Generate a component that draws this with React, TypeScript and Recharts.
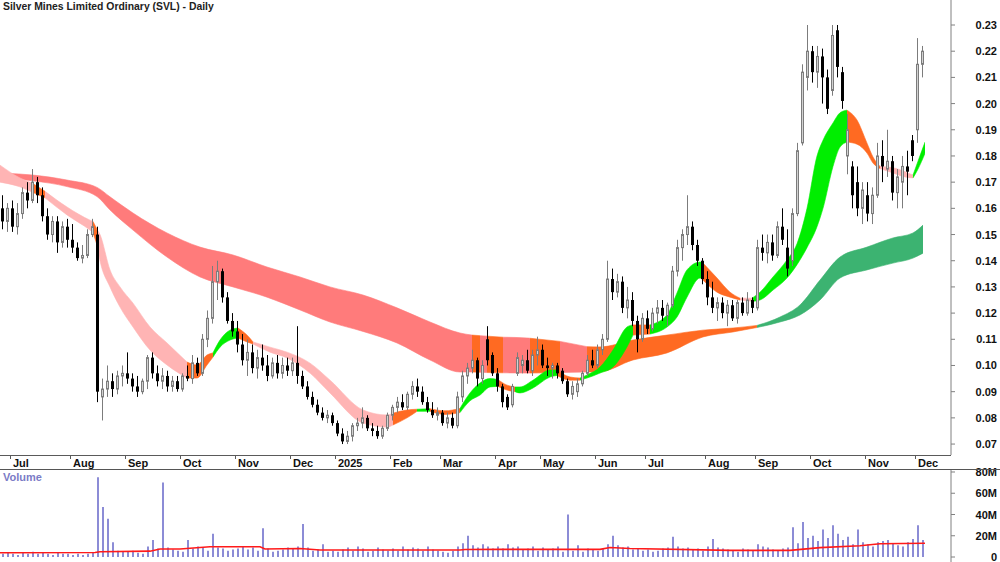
import { Area, Bar, ComposedChart, Line, XAxis, YAxis } from 'recharts'

const FONT = "'Liberation Sans Narrow', 'Liberation Sans', Arial, sans-serif"

// price bars in thousandths of a dollar: [open, high, low, close], one bar per two sessions
const jun24 = [[160,165,152,155],[155,162,151,160]]
const jul24 = [[160,163,151,153],[153,162,150,158],[158,168,156,166],[166,170,160,163],[163,175,162,170],[170,172,162,165],[165,168,155,157],[157,160,148,150],[150,157,147,155],[155,157,143,147],[147,155,145,153],[153,156,145,148]]
const aug24 = [[148,154,143,145],[145,147,140,141],[141,146,139,142],[142,152,141,150],[150,156,149,153],[150,153,86,90],[88,95,79,91],[91,100,88,94],[94,97,88,91],[91,98,89,96],[96,100,92,97]]
const sep24 = [[97,105,93,95],[95,97,90,92],[92,96,88,90],[90,95,89,94],[94,104,91,103],[103,105,95,97],[97,100,92,94],[94,99,91,96],[96,98,90,92],[92,96,90,94],[94,96,90,91]]
const oct24 = [[91,97,90,96],[96,100,94,95],[95,104,93,101],[101,103,96,97],[97,112,96,110],[110,121,107,118],[118,138,116,132],[132,140,125,136],[136,137,124,126],[126,128,116,117],[117,120,111,113]]
const nov24 = [[113,117,105,108],[108,112,100,102],[102,110,96,105],[105,108,97,99],[99,106,95,103],[103,108,98,100],[100,104,94,96],[96,103,95,101],[101,104,95,97],[97,103,95,100],[100,103,96,98]]
const dec24 = [[98,103,96,101],[101,115,93,96],[96,98,91,92],[92,94,87,88],[88,90,84,85],[85,87,81,82],[82,84,79,80],[80,83,78,81],[81,82,77,78]]
const jan25 = [[78,79,73,74],[74,76,70,71],[71,75,70,73],[73,78,71,77],[77,80,75,78],[78,84,76,80],[80,81,75,76],[76,78,73,75],[75,77,72,73],[73,77,72,76],[76,82,75,81]]
const feb25 = [[81,85,79,84],[84,88,82,86],[86,89,83,84],[84,90,83,89],[89,94,87,92],[92,95,88,90],[90,92,85,86],[86,88,82,83],[83,86,80,81],[81,84,79,82]]
const mar25 = [[82,83,77,78],[78,82,76,80],[80,82,76,77],[77,90,76,88],[88,98,86,96],[96,101,93,99],[99,106,97,102],[102,103,92,95],[95,102,93,100],[110,115,100,102],[104,105,96,97]]
const apr25 = [[97,99,90,92],[92,93,84,86],[88,89,83,84],[85,93,84,92],[97,105,96,103],[100,104,97,102],[102,106,97,98],[98,106,96,104],[104,111,100,106]]
const may25 = [[106,108,99,100],[100,103,96,99],[99,101,95,100],[100,101,95,97],[98,99,93,94],[94,95,88,89],[89,94,87,92],[90,95,88,93],[93,98,92,97],[97,104,96,102],[102,106,99,100]]
const jun25 = [[100,108,99,106],[106,112,104,110],[110,140,109,133],[133,137,125,128],[128,135,126,132],[132,134,120,122],[122,130,118,125],[125,128,115,117],[117,119,105,110],[110,120,109,118]]
const jul25 = [[118,121,112,114],[114,122,113,120],[120,125,116,122],[122,125,117,119],[119,124,115,123],[123,138,122,136],[136,148,134,145],[145,152,140,150],[150,165,146,153],[153,155,144,146],[146,148,138,140],[140,141,131,133]]
const aug25 = [[133,136,123,126],[126,132,120,122],[122,126,117,124],[124,126,118,120],[120,125,115,123],[123,125,117,118],[118,125,116,124],[124,126,119,120],[120,128,119,125],[125,126,120,122]]
const sep25 = [[122,148,121,145],[145,150,140,143],[143,150,139,147],[147,150,140,142],[142,155,141,153],[153,160,146,148],[145,152,134,137],[140,160,138,158],[158,185,157,182],[185,215,184,212],[210,230,205,220]]
const oct25 = [[220,222,208,212],[212,222,206,218],[218,221,200,210],[210,213,196,198],[205,230,203,226],[228,230,210,214],[212,214,198,201],[180,196,173,190],[176,178,160,165],[170,176,157,160],[160,170,154,167]]
const nov25 = [[165,170,155,158],[158,168,154,165],[165,185,164,180],[180,186,170,176],[175,190,172,178],[178,180,163,166],[166,175,160,172],[170,180,160,176],[176,182,165,174],[186,188,178,180]]
const dec25 = [[190,225,185,215],[215,222,210,220]]

const monthBars = [jun24, jul24, aug24, sep24, oct24, nov24, dec24, jan25, feb25, mar25, apr25, may25, jun25, jul25, aug25, sep25, oct25, nov25, dec25]
const monthLabels = ['', 'Jul', 'Aug', 'Sep', 'Oct', 'Nov', 'Dec', '2025', 'Feb', 'Mar', 'Apr', 'May', 'Jun', 'Jul', 'Aug', 'Sep', 'Oct', 'Nov', 'Dec']

// volume, millions
const volumes = [
  3,4, 3,2,4,3,5,3,4,3,2,4,3,3,
  2,3,2,3,4,75,47,36,14,6,5,
  5,6,4,3,10,16,8,70,9,7,6,
  5,16,8,10,9,6,22,9,8,6,7,
  8,10,7,9,6,27,8,5,6,7,9,
  8,10,31,9,6,7,12,5,6,
  5,7,9,6,10,8,5,6,9,7,6,
  8,6,10,7,9,8,6,10,7,6,
  5,4,6,10,13,20,11,9,12,10,8,
  10,8,12,9,10,7,8,10,6,
  9,7,8,10,5,40,6,11,5,8,7,
  6,8,12,20,11,9,10,7,8,6,
  7,5,6,8,9,19,10,8,9,7,8,6,
  10,17,9,8,7,6,5,8,7,6,
  12,10,9,7,6,8,9,28,13,33,18,
  20,15,26,18,30,22,16,19,12,26,14,
  12,10,14,15,16,13,11,10,14,17,
  30,16,
]

// volume average line, read at bar positions
const volAvgAt = [0, 19, 20, 30, 32, 36, 42, 52, 53, 60, 64, 92, 93, 100, 120, 122, 126, 146, 158, 164, 172, 176, 185]
const volAvgVal = [4, 4.2, 5, 5.5, 7.5, 7.5, 9.7, 9.7, 7.5, 8, 6.6, 6.6, 7, 7.2, 7.2, 9, 8, 6.2, 6.2, 8.8, 10.6, 12.5, 13]

// ribbons: [bar position, low, high] in thousandths, trend of each stretch
const longRibbon = [
  { trend: 'fall', pts: [[1,171.6,173.4],[6.6,170.5,172.7],[13.4,168.3,170.8],[19.4,164.5,168.0],[22,159.4,164.4],[26.6,151.7,158.2],[33.4,141.4,150.6],[40,133.8,145.2],[46.6,130.0,142.2],[53.4,126.1,137.6],[60,121.2,133.8],[66,116.6,130.0],[72.6,113.0,126.9],[79.4,108.6,122.0],[86,102.1,116.6],[92,97.5,112.4],[94.4,97.5,111.6]] },
  { trend: 'turn', pts: [[94.4,97.5,111.6],[96,97.4,111.4]] },
  { trend: 'fall', pts: [[96,97.4,111.4],[97.4,97.3,111.2]] },
  { trend: 'turn', pts: [[97.4,97.3,111.2],[100.6,97.2,110.8]] },
  { trend: 'fall', pts: [[100.6,97.2,110.8],[105.4,97.1,110.5],[106,97.1,110.4]] },
  { trend: 'turn', pts: [[106,97.1,110.4],[112,97.3,109.2]] },
  { trend: 'fall', pts: [[112,97.3,109.2],[117.4,97.5,107.2]] },
  { trend: 'turn', pts: [[117.4,97.5,107.2],[120,97.6,107.1],[126.6,102.1,109.7],[133.4,104.8,111.6],[140.6,110.9,113.5],[146.6,112.8,114.3],[151.4,114.5,115.3]] },
  { trend: 'rise', pts: [[151.4,114.5,115.3],[156,116.6,118.5],[160,119.3,123.1],[164,125.0,132.6],[168,133.4,141.4],[173.4,136.5,145.2],[178.6,139.1,148.7],[182.6,141.0,150.6],[184.6,142.9,153.6]] },
]

const shortRibbon = [
  { trend: 'fall', pts: [[0,170.0,176.5],[4,168.2,171.6],[6.4,166.2,169.7]] },
  { trend: 'turn', pts: [[6.4,166.2,169.7],[9,164.0,166.5]] },
  { trend: 'fall', pts: [[9,164.0,166.5],[13.4,157.5,160.5],[18,151.7,155.5],[18.6,150.8,155.0]] },
  { trend: 'turn', pts: [[18.6,150.8,155.0],[19.4,146.0,152.0]] },
  { trend: 'fall', pts: [[19.4,146.0,152.0],[20,140.0,150.0],[22,130.0,136.5],[24,122.3,130.0],[26.6,114.7,123.8],[30,105.9,114.7],[33.4,100.2,108.6],[37.4,95.2,101.3]] },
  { trend: 'turn', pts: [[37.4,95.2,101.3],[39.4,95.2,100.2],[41.4,100.2,104.0],[42.6,103.2,104.8]] },
  { trend: 'rise', pts: [[42.6,103.2,104.8],[44,107.0,109.7],[46,109.7,113.5],[47.6,110.5,114.3]] },
  { trend: 'turn', pts: [[47.6,110.5,114.3],[49.4,109.0,111.6],[50.6,108.2,109.0]] },
  { trend: 'fall', pts: [[50.6,108.2,109.0],[54,105.1,107.0],[57.4,102.9,105.1],[62,97.1,100.9],[66,89.5,94.4],[72.6,78.0,83.0],[77.4,76.5,81.1],[78.6,77.3,81.8]] },
  { trend: 'turn', pts: [[78.6,77.3,81.8],[81.4,80.0,83.0],[83.4,82.5,83.3]] },
  { trend: 'rise', pts: [[83.4,82.5,83.3],[86,82.5,83.5]] },
  { trend: 'turn', pts: [[86,82.5,83.5],[89,81.3,82.7],[92,82.0,83.6]] },
  { trend: 'rise', pts: [[92,82.0,83.6],[94,86.5,89.5],[96,88.7,93.3],[98,91.8,95.0],[99.6,92.0,94.6]] },
  { trend: 'turn', pts: [[99.6,92.0,94.6],[101.4,90.6,92.5],[103,90.0,91.8]] },
  { trend: 'rise', pts: [[103,90.0,91.8],[104,89.5,91.8],[106.6,91.4,94.4],[110,95.6,98.3],[111.4,96.2,98.3]] },
  { trend: 'turn', pts: [[111.4,96.2,98.3],[114,94.4,95.6],[116,94.4,95.2]] },
  { trend: 'rise', pts: [[116,94.4,95.2],[117.4,95.2,96.4],[120,97.1,99.4],[122.6,99.4,105.9],[125.4,107.1,114.7],[126.6,111.6,115.5]] },
  { trend: 'turn', pts: [[126.6,111.6,115.5],[130,112.0,115.5]] },
  { trend: 'rise', pts: [[130,112.0,115.5],[133.4,114.7,119.3],[135.4,118.5,127.7],[137.4,126.1,136.5],[140,133.4,139.5],[140.6,132.6,139.1]] },
  { trend: 'turn', pts: [[140.6,132.6,139.1],[143.4,128.0,133.4],[146,126.1,128.0],[148,125.0,125.7]] },
  { trend: 'fall', pts: [[148,125.0,125.7],[150.4,124.5,125.7]] },
  { trend: 'rise', pts: [[150.4,124.5,125.7],[152,125.0,128.0],[154.6,128.8,133.8],[157.4,133.4,140.3],[159.4,138.5,146.5],[161.4,145.0,160.0],[163.4,153.0,180.0],[164.6,160.0,186.0],[166.6,176.0,192.6],[168,183.4,196.5],[169.4,185.3,197.5]] },
  { trend: 'turn', pts: [[169.4,185.3,197.5],[171.4,184.5,193.7],[173.4,181.1,184.9],[174.6,177.3,179.6],[176,175.2,176.0]] },
  { trend: 'fall', pts: [[176,175.2,176.0],[178.6,173.5,175.5],[181,172.0,174.0],[182.6,171.6,172.7]] },
  { trend: 'rise', pts: [[182.6,171.6,172.7],[183.6,175.0,178.0],[185,181.0,185.3]] },
]

const priceTicks = [70, 80, 90, 100, 110, 120, 130, 140, 150, 160, 170, 180, 190, 200, 210, 220, 230]
const volTicks = [0, 20, 40, 60, 80]

const longColors: Record<string, string> = { fall: '#ff7b7b', turn: '#ff6a22', rise: '#3cb371' }
const shortColors: Record<string, string> = { fall: '#ffb4b4', turn: '#ff6a22', rise: '#00ee00' }

const bars = monthBars.flat()
const rows = bars.map(([o, h, l, c], i) => ({ i, o, h, l, c, range: [l, h], vol: volumes[i] }))

const monthStarts: number[] = []
const tickLabel: Record<number, string> = {}
monthBars.reduce((start, m, k) => {
  if (monthLabels[k]) {
    monthStarts.push(start)
    tickLabel[start] = monthLabels[k]
  }
  return start + m.length
}, 0)

const volAvg = volAvgAt.map((u, k) => ({ u, v: volAvgVal[k] }))
const ribbonData = (pts: number[][]) => pts.map(([u, lo, hi]) => ({ u, r: [lo, hi] }))

const N = bars.length
const PAD = { left: 0, right: 26 }
const AXIS_Y = 455

function Candle(props: any) {
  const { x, y, width, height, payload } = props
  if (!payload || !Number.isFinite(y)) return <g />
  const { o, h, l, c } = payload
  const top = Math.min(y, y + height)
  const span = Math.abs(height)
  const toY = (v: number) => (h === l ? top : top + ((h - v) / (h - l)) * span)
  const cx = Math.floor(x + width / 2) + 0.5
  const up = c >= o
  const b0 = toY(Math.max(o, c))
  const b1 = Math.max(toY(Math.min(o, c)), b0 + 1)
  return (
    <g>
      <line x1={cx} x2={cx} y1={top} y2={top + span} stroke={up ? '#7c7c7c' : '#000'} />
      {up ? (
        <rect x={cx - 1} y={b0} width={2} height={b1 - b0} fill="#d2d2d2" stroke="#7c7c7c" />
      ) : (
        <rect x={cx - 1.5} y={b0} width={3} height={b1 - b0} fill="#000" />
      )}
    </g>
  )
}

function MonthTick(props: any) {
  const { x, payload } = props
  const tx = Math.floor(x) + 0.5
  return (
    <g>
      <line x1={tx} x2={tx} y1={AXIS_Y} y2={AXIS_Y + 4} stroke="#5a5a5a" />
      <text x={tx + 2.5} y={AXIS_Y + 11.5} fontSize={11} fontWeight="bold" fill="#111" fontFamily={FONT}>
        {tickLabel[payload.value]}
      </text>
    </g>
  )
}

function PriceTick(props: any) {
  const { y, payload } = props
  return (
    <text x={997} y={y + 4} textAnchor="end" fontSize={11} fontWeight="bold" fill="#111" fontFamily={FONT}>
      {(payload.value / 1000).toFixed(2)}
    </text>
  )
}

function VolTick(props: any) {
  const { y, payload } = props
  return (
    <text x={997} y={y + 4} textAnchor="end" fontSize={11} fontWeight="bold" fill="#111" fontFamily={FONT}>
      {payload.value === 0 ? '0' : `${payload.value}M`}
    </text>
  )
}

export default function App() {
  return (
    <div
      style={{
        position: 'absolute',
        left: 0,
        top: 0,
        width: 1000,
        height: 562,
        background: '#fff',
        overflow: 'hidden',
        fontFamily: FONT,
      }}
    >
      <div style={{ position: 'absolute', left: 0, top: 0 }}>
        <ComposedChart width={1000} height={470} data={rows} margin={{ top: 0, right: 0, bottom: 0, left: 0 }}>
          <XAxis xAxisId="cat" dataKey="i" hide padding={PAD} />
          <XAxis
            xAxisId="num"
            dataKey="u"
            type="number"
            domain={[0, N]}
            allowDataOverflow
            ticks={monthStarts}
            interval={0}
            height={15}
            padding={PAD}
            axisLine={false}
            tickLine={false}
            tickSize={0}
            tickMargin={0}
            tick={<MonthTick />}
          />
          <YAxis
            orientation="right"
            width={49}
            domain={[65.82, 239.55]}
            allowDataOverflow
            ticks={priceTicks}
            interval={0}
            axisLine={{ stroke: '#808080' }}
            tickLine={{ stroke: '#808080' }}
            tickSize={4}
            tick={<PriceTick />}
          />
          {longRibbon.map((s, k) => (
            <Area
              key={`long-${k}`}
              xAxisId="num"
              data={ribbonData(s.pts)}
              dataKey="r"
              type="monotone"
              stroke={longColors[s.trend]}
              strokeWidth={0.6}
              fill={longColors[s.trend]}
              fillOpacity={1}
              dot={false}
              activeDot={false}
              isAnimationActive={false}
            />
          ))}
          {shortRibbon.map((s, k) => (
            <Area
              key={`short-${k}`}
              xAxisId="num"
              data={ribbonData(s.pts)}
              dataKey="r"
              type="monotone"
              stroke={shortColors[s.trend]}
              strokeWidth={0.6}
              fill={shortColors[s.trend]}
              fillOpacity={1}
              dot={false}
              activeDot={false}
              isAnimationActive={false}
            />
          ))}
          <Bar xAxisId="cat" dataKey="range" barSize={3} shape={Candle} isAnimationActive={false} />
        </ComposedChart>
      </div>

      <div style={{ position: 'absolute', left: 0, top: 462 }}>
        <ComposedChart width={1000} height={100} data={rows} margin={{ top: 8, right: 0, bottom: 0, left: 0 }}>
          <XAxis xAxisId="cat" dataKey="i" hide padding={PAD} />
          <XAxis xAxisId="num" dataKey="u" type="number" domain={[0, N]} allowDataOverflow hide padding={PAD} />
          <YAxis
            orientation="right"
            width={49}
            domain={[-4.7, 81.88]}
            allowDataOverflow
            ticks={volTicks}
            interval={0}
            axisLine={{ stroke: '#808080' }}
            tickLine={{ stroke: '#808080' }}
            tickSize={4}
            tick={<VolTick />}
          />
          <Bar xAxisId="cat" dataKey="vol" barSize={2} fill="#8c8cd6" isAnimationActive={false} />
          <Line
            xAxisId="num"
            data={volAvg}
            dataKey="v"
            type="linear"
            stroke="#ff1a1a"
            strokeWidth={1.6}
            dot={false}
            activeDot={false}
            isAnimationActive={false}
          />
        </ComposedChart>
      </div>

      <div style={{ position: 'absolute', left: 0, top: AXIS_Y, width: 951, height: 1, background: '#5a5a5a' }} />
      <div style={{ position: 'absolute', left: 0, top: 469, width: 1000, height: 1, background: '#555' }} />
      <div
        style={{
          position: 'absolute',
          left: 3,
          top: 1,
          fontSize: 10.4,
          fontWeight: 'bold',
          color: '#222',
          whiteSpace: 'nowrap',
        }}
      >
        Silver Mines Limited Ordinary (SVL) - Daily
      </div>
      <div
        style={{
          position: 'absolute',
          left: 3,
          top: 471,
          fontSize: 11,
          fontWeight: 'bold',
          color: '#7b7bc6',
        }}
      >
        Volume
      </div>
    </div>
  )
}
